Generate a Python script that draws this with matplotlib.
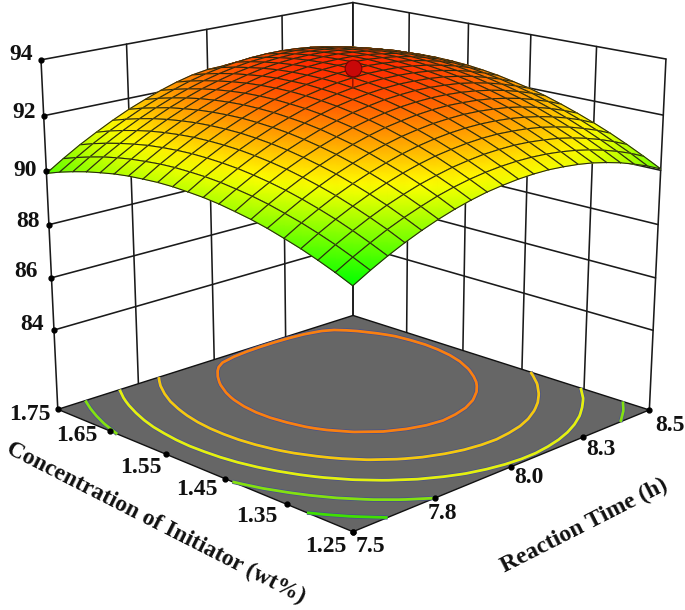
import numpy as np
import matplotlib
matplotlib.use("Agg")
import matplotlib.pyplot as plt
from matplotlib.colors import LinearSegmentedColormap, Normalize

plt.rcParams["font.family"] = ["Liberation Serif", "DejaVu Serif"]

time_ticks = [7.5, 7.75, 8.0, 8.25, 8.5]
time_labels = ["7.5", "7.8", "8.0", "8.3", "8.5"]
conc_ticks = [1.25, 1.35, 1.45, 1.55, 1.65, 1.75]
conc_labels = ["1.25", "1.35", "1.45", "1.55", "1.65", "1.75"]
z_ticks = [84, 86, 88, 90, 92, 94]
z_floor = 80.9

time_grid = [7.5, 7.55, 7.6, 7.65, 7.7, 7.75, 7.8, 7.85, 7.9, 7.95, 8.0,
             8.05, 8.1, 8.15, 8.2, 8.25, 8.3, 8.35, 8.4, 8.45, 8.5]
conc_grid = [1.25, 1.275, 1.3, 1.325, 1.35, 1.375, 1.4, 1.425, 1.45, 1.475, 1.5,
             1.525, 1.55, 1.575, 1.6, 1.625, 1.65, 1.675, 1.7, 1.725, 1.75]

# yield on the 21 x 21 mesh, rows = concentration, columns = time. Estimated from the
# picture: edge heights and contour crossings were read off, the cells between them
# come from a smooth quadratic fit to those readings, back edge lowered by hand
yield_z = [
    [89.20, 89.53, 89.83, 90.10, 90.34, 90.55, 90.73, 90.88, 91.00, 91.08, 91.14, 91.17, 91.17, 91.13, 91.07, 90.98, 90.85, 90.70, 90.51, 90.30, 90.05],
    [89.46, 89.79, 90.09, 90.37, 90.61, 90.82, 91.01, 91.16, 91.28, 91.37, 91.43, 91.46, 91.46, 91.43, 91.37, 91.28, 91.16, 91.01, 90.83, 90.62, 90.37],
    [89.69, 90.03, 90.33, 90.61, 90.86, 91.07, 91.26, 91.41, 91.54, 91.63, 91.70, 91.73, 91.74, 91.71, 91.65, 91.57, 91.45, 91.30, 91.12, 90.91, 90.67],
    [89.90, 90.24, 90.55, 90.83, 91.08, 91.30, 91.49, 91.65, 91.78, 91.87, 91.94, 91.98, 91.99, 91.96, 91.91, 91.83, 91.71, 91.57, 91.39, 91.19, 90.95],
    [90.08, 90.43, 90.74, 91.03, 91.28, 91.50, 91.69, 91.86, 91.99, 92.09, 92.16, 92.20, 92.21, 92.19, 92.14, 92.06, 91.95, 91.81, 91.64, 91.44, 91.20],
    [90.25, 90.59, 90.91, 91.20, 91.46, 91.68, 91.88, 92.04, 92.18, 92.28, 92.36, 92.40, 92.42, 92.40, 92.35, 92.28, 92.17, 92.03, 91.86, 91.66, 91.43],
    [90.39, 90.74, 91.06, 91.35, 91.61, 91.84, 92.04, 92.21, 92.35, 92.45, 92.53, 92.58, 92.60, 92.58, 92.54, 92.47, 92.36, 92.23, 92.06, 91.87, 91.64],
    [90.50, 90.86, 91.18, 91.48, 91.74, 91.97, 92.17, 92.35, 92.49, 92.60, 92.68, 92.73, 92.75, 92.74, 92.70, 92.63, 92.53, 92.40, 92.24, 92.05, 91.83],
    [90.60, 90.95, 91.28, 91.58, 91.85, 92.08, 92.29, 92.46, 92.61, 92.72, 92.81, 92.86, 92.89, 92.88, 92.84, 92.78, 92.68, 92.55, 92.39, 92.20, 91.99],
    [90.67, 91.03, 91.36, 91.66, 91.93, 92.17, 92.38, 92.56, 92.71, 92.82, 92.91, 92.97, 93.00, 92.99, 92.96, 92.90, 92.80, 92.68, 92.52, 92.34, 92.12],
    [90.71, 91.08, 91.41, 91.72, 91.99, 92.23, 92.44, 92.63, 92.78, 92.90, 92.99, 93.05, 93.08, 93.08, 93.05, 92.99, 92.90, 92.78, 92.63, 92.45, 92.24],
    [90.74, 91.10, 91.44, 91.75, 92.03, 92.27, 92.49, 92.67, 92.83, 92.95, 93.05, 93.11, 93.15, 93.15, 93.13, 93.07, 92.98, 92.86, 92.72, 92.54, 92.33],
    [90.74, 91.11, 91.45, 91.76, 92.04, 92.29, 92.51, 92.70, 92.86, 92.99, 93.08, 93.15, 93.19, 93.20, 93.17, 93.12, 93.04, 92.92, 92.78, 92.60, 92.40],
    [90.71, 91.09, 91.43, 91.75, 92.03, 92.28, 92.51, 92.70, 92.86, 92.99, 93.09, 93.17, 93.21, 93.22, 93.20, 93.15, 93.07, 92.96, 92.81, 92.64, 92.44],
    [90.67, 91.04, 91.39, 91.71, 92.00, 92.25, 92.48, 92.68, 92.84, 92.98, 93.08, 93.16, 93.20, 93.21, 93.20, 93.15, 93.07, 92.97, 92.83, 92.66, 92.46],
    [90.60, 90.98, 91.33, 91.65, 91.94, 92.20, 92.43, 92.63, 92.80, 92.94, 93.05, 93.12, 93.17, 93.19, 93.18, 93.13, 93.06, 92.95, 92.82, 92.65, 92.46],
    [90.50, 90.89, 91.24, 91.57, 91.86, 92.12, 92.36, 92.56, 92.73, 92.87, 92.99, 93.07, 93.12, 93.14, 93.13, 93.09, 93.02, 92.92, 92.79, 92.63, 92.43],
    [90.39, 90.78, 91.13, 91.46, 91.76, 92.03, 92.26, 92.47, 92.64, 92.79, 92.90, 92.99, 93.04, 93.07, 93.06, 93.02, 92.96, 92.86, 92.73, 92.57, 92.39],
    [90.25, 90.64, 91.00, 91.33, 91.63, 91.90, 92.14, 92.35, 92.53, 92.68, 92.80, 92.89, 92.94, 92.97, 92.97, 92.94, 92.87, 92.78, 92.65, 92.50, 92.31],
    [90.09, 90.48, 90.85, 91.18, 91.48, 91.76, 92.00, 92.21, 92.40, 92.55, 92.67, 92.76, 92.82, 92.85, 92.85, 92.82, 92.76, 92.67, 92.55, 92.40, 92.22],
    [89.90, 90.30, 90.67, 91.00, 91.31, 91.59, 91.83, 92.05, 92.24, 92.39, 92.48, 92.50, 92.52, 92.53, 92.53, 92.52, 92.50, 92.47, 92.43, 92.28, 92.10],
]

contour_levels = [89.85, 90.55, 91.25, 91.9, 92.6]
contour_colors = ["#40e000", "#84e010", "#e4f010", "#f4c810", "#f88010"]
design_point = (8.0, 1.5, 93.7)

# picture position of box corners and z ticks, used to fit the camera
anchors = [
    (7.5, 1.75, z_floor, 59, 411), (8.5, 1.25, z_floor, 648, 413),
    (7.5, 1.25, z_floor, 353, 533), (8.5, 1.75, z_floor, 353, 317),
    (7.5, 1.75, 84, 55, 329), (7.5, 1.75, 86, 52, 276), (7.5, 1.75, 88, 48, 222),
    (7.5, 1.75, 90, 46, 170), (7.5, 1.75, 92, 43, 116), (7.5, 1.75, 94, 40, 63),
    (8.5, 1.25, 84, 653, 328), (8.5, 1.25, 86, 655, 276), (8.5, 1.25, 88, 658, 223),
    (8.5, 1.25, 90, 661, 167), (8.5, 1.25, 92, 663, 116), (8.5, 1.25, 94, 668, 63),
    (8.5, 1.75, 94, 353, 2),
]


def norm3(t, c, z):
    return (np.asarray(t, float) - 7.5), (np.asarray(c, float) - 1.25) / 0.5, (np.asarray(z, float) - 84) / 10


def fit_camera():
    rows = []
    for t, c, z, px, py in anchors:
        a, b, d = norm3(t, c, z)
        x, y = px / 600, py / 600
        rows.append([a, b, d, 1, 0, 0, 0, 0, -x*a, -x*b, -x*d, -x])
        rows.append([0, 0, 0, 0, a, b, d, 1, -y*a, -y*b, -y*d, -y])
    return np.linalg.svd(np.array(rows, float))[2][-1].reshape(3, 4)


CAM = fit_camera()


def project(t, c, z):
    a, b, d = norm3(t, c, z)
    one = np.ones_like(a + b + d)
    w = CAM[2, 0]*a + CAM[2, 1]*b + CAM[2, 2]*d + CAM[2, 3]*one
    x = (CAM[0, 0]*a + CAM[0, 1]*b + CAM[0, 2]*d + CAM[0, 3]*one) / w
    y = (CAM[1, 0]*a + CAM[1, 1]*b + CAM[1, 2]*d + CAM[1, 3]*one) / w
    return x * 600, y * 600


def line3(ax, p, q, lw=1.15, color="#1a1a1a", zorder=1):
    x0, y0 = project(*p)
    x1, y1 = project(*q)
    ax.plot([x0, x1], [y0, y1], color=color, lw=lw, zorder=zorder, solid_capstyle="round")


fig = plt.figure(figsize=(6.85, 6.10), dpi=100)
ax = fig.add_axes([0, 0, 1, 1])
ax.set_xlim(0, 685)
ax.set_ylim(610, 0)
ax.axis("off")

t0, t1, c0, c1 = time_grid[0], time_grid[-1], conc_grid[0], conc_grid[-1]

# walls
for t in time_ticks:
    line3(ax, (t, c1, z_floor), (t, c1, 94))
for c in conc_ticks:
    line3(ax, (t1, c, z_floor), (t1, c, 94))
for z in z_ticks:
    line3(ax, (t0, c1, z), (t1, c1, z))
    line3(ax, (t1, c1, z), (t1, c0, z))

# floor
fx, fy = project(np.array([t0, t1, t1, t0]), np.array([c0, c0, c1, c1]), np.full(4, z_floor))
ax.fill(fx, fy, facecolor="#666666", edgecolor="#111111", lw=1.0, zorder=2)

# contours on the floor
T, C = np.meshgrid(time_grid, conc_grid)
Z = np.array(yield_z)
gx, gy = project(T, C, np.full_like(T, z_floor))
ax.contour(gx, gy, Z, levels=contour_levels, colors="#46508c", linewidths=3.0, zorder=3)
ax.contour(gx, gy, Z, levels=contour_levels, colors=contour_colors, linewidths=2.0, zorder=3)

# surface, back corner first so the front quads cover what they hide
cmap = LinearSegmentedColormap.from_list("gyr", ["#00ff00", "#ffff00", "#ff2000"])
norm = Normalize(89.2, 93.3)
sx, sy = project(T, C, Z)
for i in range(19, -1, -1):
    for j in range(19, -1, -1):
        qx = sx[i:i+2, j:j+2]
        qy = sy[i:i+2, j:j+2]
        ax.pcolormesh(qx, qy, Z[i:i+2, j:j+2], shading="gouraud", cmap=cmap, norm=norm, zorder=4)
        ax.plot([qx[0, 0], qx[0, 1], qx[1, 1], qx[1, 0], qx[0, 0]],
                [qy[0, 0], qy[0, 1], qy[1, 1], qy[1, 0], qy[0, 0]],
                color="#2a2a10", lw=0.8, zorder=4)

# design point
mx, my = project(*design_point)
sx0, sy0 = project(design_point[0], design_point[1], Z[10, 10])
ax.plot([mx, sx0], [my, sy0], color="#8a1000", lw=1.0, zorder=5)
ax.plot([mx], [my], "o", ms=12, mfc="#c80808", mec="#7a0000", mew=0.8, zorder=6)

# tick dots
for z in z_ticks:
    ax.plot(*project(t0, c1, z), "o", ms=3.5, color="black", zorder=6)
for c in conc_ticks:
    ax.plot(*project(t0, c, z_floor), "o", ms=3.5, color="black", zorder=6)
for t in time_ticks:
    ax.plot(*project(t, c0, z_floor), "o", ms=3.5, color="black", zorder=6)

# tick labels
label_kw = dict(fontsize=17, fontweight="bold", ha="center", va="center", color="#111111", zorder=7)
z_off = [(-22, -6), (-25, -6), (-21, -3), (-21, 0), (-20, -3), (-20, -5)]
for z, (dx, dy) in zip(z_ticks, z_off):
    x, y = project(t0, c1, z)
    ax.text(x + dx, y + dy, str(z), **label_kw)
conc_off = [(-27, 15), (-30, 12), (-28, 11), (-25, 13), (-34, 4), (-28, 5)]
for c, lab, (dx, dy) in zip(conc_ticks, conc_labels, conc_off):
    x, y = project(t0, c, z_floor)
    ax.text(x + dx, y + dy, lab, **label_kw)
time_off = [(18, 15), (8, 15), (18, 11), (18, 12), (21, 16)]
for t, lab, (dx, dy) in zip(time_ticks, time_labels, time_off):
    x, y = project(t, c0, z_floor)
    ax.text(x + dx, y + dy, lab, **label_kw)

# axis titles
ax.text(156, 523, "Concentration of Initiator (wt%)", fontsize=17, fontweight="bold", rotation=-27,
        rotation_mode="anchor", ha="center", va="center", color="#111111")
ax.text(584, 526, "Reaction Time (h)", fontsize=17.2, fontweight="bold", rotation=27,
        rotation_mode="anchor", ha="center", va="center", color="#111111")

fig.savefig("out.png", dpi=100)
